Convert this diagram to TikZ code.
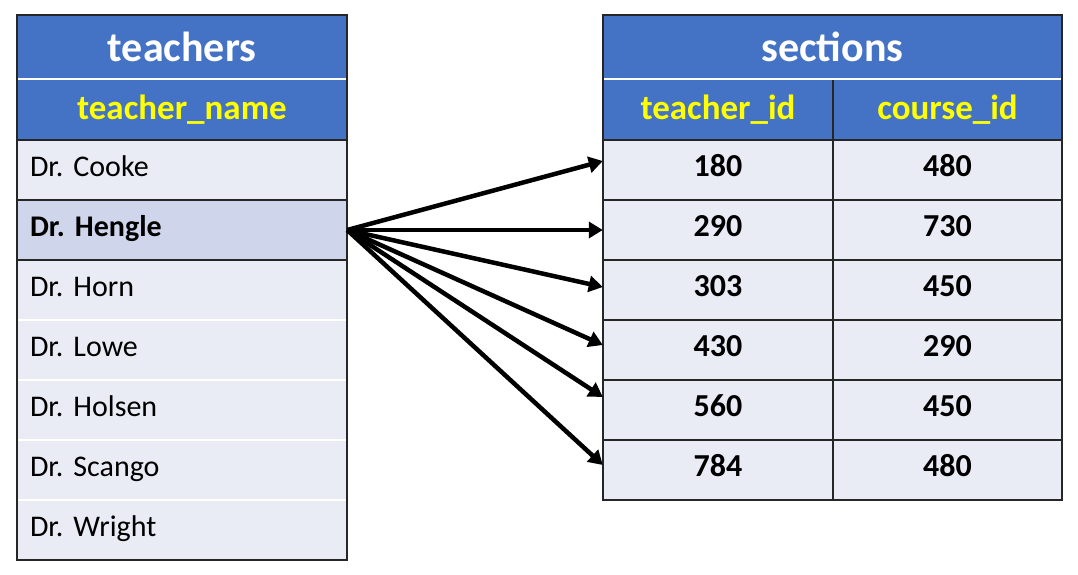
\documentclass[tikz,border=0pt]{standalone}
\usepackage{fontspec}
\setmainfont{Carlito}
\usepackage{tikz}
\usetikzlibrary{arrows.meta}
\definecolor{TblHeadBlue}{RGB}{68,114,196}
\definecolor{TblRowFill}{RGB}{233,235,245}
\definecolor{TblRowSel}{RGB}{207,213,234}
\definecolor{TblHeadText}{RGB}{255,255,0}
\frenchspacing

\begin{document}
\begin{tikzpicture}[x=1pt,y=-1pt,
  title/.style={fill=TblHeadBlue,text=white,font=\fontsize{42}{46}\selectfont\bfseries,minimum width=#1,minimum height=63pt,inner sep=0pt},
  colhead/.style={fill=TblHeadBlue,text=TblHeadText,font=\fontsize{35}{38}\selectfont\bfseries,minimum width=#1,minimum height=60pt,inner sep=0pt},
  namecell/.style={fill=TblRowFill,font=\fontsize{30}{34}\selectfont,minimum width=330pt,minimum height=60pt,text width=304pt,align=left,inner sep=0pt,text height=21pt,text depth=9pt},
  pick/.style={fill=TblRowSel,font=\fontsize{30}{34}\selectfont\bfseries},
  idcell/.style={fill=TblRowFill,font=\fontsize{32}{36}\selectfont\bfseries,minimum width=#1,minimum height=60pt,inner sep=0pt,text height=21pt,text depth=9pt},
  rule/.style={line width=1.5pt,black!85},
  gap/.style={line width=2.5pt,white},
  link/.style={line width=4.5pt,-{Triangle[length=14pt,width=16pt]}}]
\useasboundingbox (0,0) rectangle (1078,574);
% teachers
\node[title=330pt] (tTitle) at (182,47) {teachers};
\node[colhead=330pt] (tHead) at (182,110) {teacher\_name};
\foreach \i/\1/\s in %
{0/Cooke/,1/Hengle/pick,2/Horn/,3/Lowe/,4/Holsen/,5/Scango/,6/Wright/} {
   \node[namecell,\s] (t\i) at (182,170+60*\i) {Dr. \1};
}
\draw[gap] (17,79) -- (347,79);
\foreach \y in {320,380,440,500} {
   \draw[gap] (17,\y) -- (347,\y);
}
\foreach \y in {140,200,260} {
   \draw[rule] (17,\y) -- (347,\y);
}
\draw[rule] (17,15) rectangle (347,560);
% sections
\node[title=459pt] (sTitle) at (832.5,47) {sections};
\node[colhead=230pt] (sHeadA) at (718,110) {teacher\_id};
\node[colhead=229pt] (sHeadB) at (947.5,110) {course\_id};
\foreach \i/\a/\b in %
{0/180/480,1/290/730,2/303/450,3/430/290,4/560/450,5/784/480} {
   \node[idcell=230pt] (s\i a) at (718,170+60*\i) {\a};
   \node[idcell=229pt] (s\i b) at (947.5,170+60*\i) {\b};
}
\draw[gap] (603,79) -- (1062,79);
\foreach \y in {140,200,...,440} {
   \draw[rule] (603,\y) -- (1062,\y);
}
\draw[rule] (833,80) -- (833,500);
\draw[rule] (603,15) rectangle (1062,500);
% links
\foreach \i/\dy in %
{0/9,1/0,2/3,3/5,4/13,5/5} {
   \draw[link] (t1.east) -- ([yshift=\dy pt]s\i a.west);
}
\end{tikzpicture}
\end{document}
